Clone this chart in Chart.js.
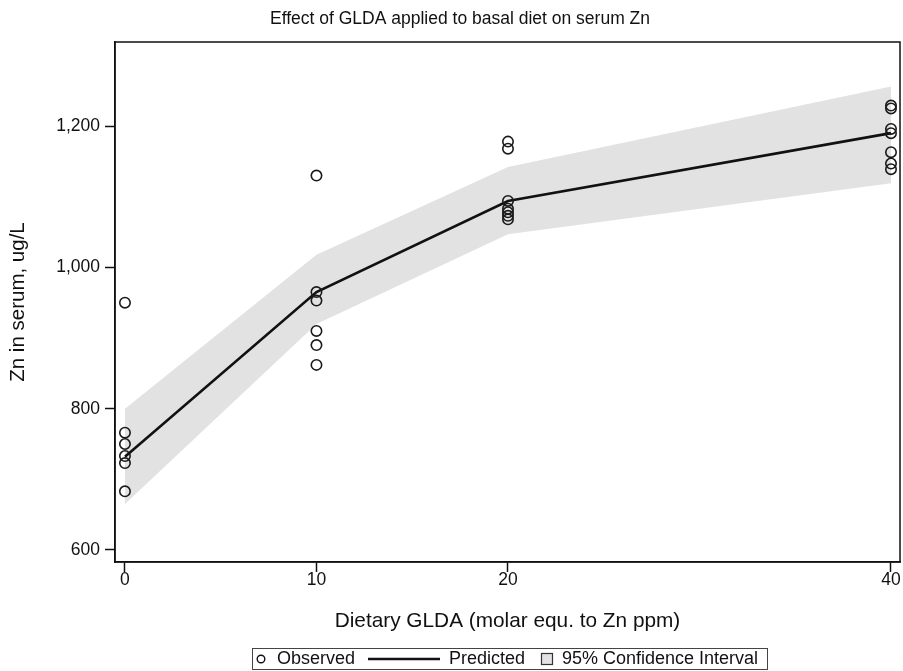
<!DOCTYPE html>
<html>
<head>
<meta charset="utf-8">
<script src="https://cdn.jsdelivr.net/npm/chart.js@4.4.1/dist/chart.umd.min.js"></script>
<style>
  html, body { margin: 0; padding: 0; background: #fff; }
  #wrap { width: 903px; height: 671px; }
</style>
</head>
<body>
<div id="wrap"><canvas id="chart"></canvas></div>
<script>
// dose levels (molar equ. to Zn ppm)
const doses = [0, 10, 20, 40];
// observed serum Zn, one array per dose group
const obsAt0 = [950, 766, 750, 733, 723, 683];
const obsAt10 = [1130, 965, 953, 910, 890, 862];
const obsAt20 = [1178, 1168, 1094, 1083, 1078, 1073, 1068];
const obsAt40 = [1229, 1225, 1196, 1190, 1163, 1147, 1139];
// fitted values and 95% CI
const predicted = [732, 965, 1094, 1190];
const ciLower = [665, 920, 1047, 1119];
const ciUpper = [800, 1018, 1142, 1256];
// axis ticks
const xTicks = [0, 10, 20, 40];
const yTicks = [600, 800, 1000, 1200];

const FONT = '"Liberation Sans", Arial, Helvetica, sans-serif';
const BAND = '#e2e2e2';

function toPoints(xs, ys) {
    return xs.map((x, i) => ({x: x, y: ys[i]}));
}

let observed = [];
[obsAt0, obsAt10, obsAt20, obsAt40].forEach((group, g) => {
    group.forEach((v) => observed.push({x: doses[g], y: v}));
});

// frame, title and the boxed legend underneath
const decor = {
    id: 'decor',
    afterDraw(chart) {
        const ctx = chart.ctx;
        const a = chart.chartArea;
        ctx.save();
        ctx.strokeStyle = '#111';
        ctx.lineWidth = 1.5;
        ctx.strokeRect(a.left, a.top, a.right - a.left, a.bottom - a.top);

        ctx.fillStyle = '#111';
        ctx.font = '17.5px ' + FONT;
        ctx.textBaseline = 'middle';
        ctx.textAlign = 'center';
        ctx.fillText('Effect of GLDA applied to basal diet on serum Zn', 460, 19);

        // legend
        ctx.font = '18px ' + FONT;
        ctx.textAlign = 'left';
        ctx.lineWidth = 1;
        ctx.strokeStyle = '#444';
        ctx.strokeRect(252.5, 648.5, 515, 21);
        const ly = 659;
        ctx.strokeStyle = '#111';
        ctx.lineWidth = 1.4;
        ctx.beginPath();
        ctx.arc(261, ly, 3.8, 0, Math.PI * 2);
        ctx.stroke();
        ctx.fillText('Observed', 277, ly);
        ctx.lineWidth = 2.5;
        ctx.beginPath();
        ctx.moveTo(368, ly);
        ctx.lineTo(440, ly);
        ctx.stroke();
        ctx.fillText('Predicted', 449, ly);
        ctx.fillStyle = BAND;
        ctx.fillRect(541, 653, 11, 11);
        ctx.lineWidth = 1.2;
        ctx.strokeStyle = '#333';
        ctx.strokeRect(541.5, 653.5, 11, 11);
        ctx.fillStyle = '#111';
        ctx.fillText('95% Confidence Interval', 562, ly);
        ctx.restore();
    }
};

new Chart(document.getElementById('chart'), {
    type: 'scatter',
    data: {
        datasets: [
            {
                label: 'Observed',
                data: observed,
                pointStyle: 'circle',
                pointRadius: 5.2,
                pointBorderWidth: 1.6,
                borderColor: '#1a1a1a',
                backgroundColor: 'rgba(0,0,0,0)',
                order: 1
            },
            {
                label: 'Predicted',
                data: toPoints(doses, predicted),
                showLine: true,
                borderColor: '#111',
                borderWidth: 2.6,
                pointRadius: 0,
                tension: 0,
                order: 2
            },
            {
                label: 'CI lower',
                data: toPoints(doses, ciLower),
                showLine: true,
                borderWidth: 0,
                borderColor: BAND,
                pointRadius: 0,
                fill: false,
                order: 3
            },
            {
                label: '95% Confidence Interval',
                data: toPoints(doses, ciUpper),
                showLine: true,
                borderWidth: 0,
                borderColor: BAND,
                backgroundColor: BAND,
                pointRadius: 0,
                fill: '-1',
                order: 4
            }
        ]
    },
    options: {
        responsive: true,
        maintainAspectRatio: false,
        animation: false,
        layout: { autoPadding: false, padding: { top: 42, right: 3, bottom: 29, left: 0 } },
        plugins: {
            legend: { display: false },
            tooltip: { enabled: false },
            title: { display: false }
        },
        scales: {
            x: {
                type: 'linear',
                min: -0.52,
                max: 40.47,
                afterBuildTicks: (scale) => { scale.ticks = xTicks.map(v => ({value: v})); },
                afterFit: (scale) => { scale.height = 80; },
                grid: { drawOnChartArea: false, tickLength: 10, tickColor: '#111', tickWidth: 1.5 },
                border: { color: '#111', width: 1.5 },
                ticks: { color: '#111', font: { family: FONT, size: 17.5 }, padding: -2, maxRotation: 0 },
                title: {
                    display: true,
                    text: 'Dietary GLDA (molar equ. to Zn ppm)',
                    color: '#111',
                    font: { family: FONT, size: 20.8 },
                    padding: { top: 0, bottom: 8.5 }
                }
            },
            y: {
                min: 583,
                max: 1319,
                afterBuildTicks: (scale) => { scale.ticks = yTicks.map(v => ({value: v})); },
                afterFit: (scale) => { scale.width = 115; },
                grid: { drawOnChartArea: false, tickLength: 10, tickColor: '#111', tickWidth: 1.5 },
                border: { color: '#111', width: 1.5 },
                ticks: {
                    color: '#111',
                    font: { family: FONT, size: 17.5 },
                    padding: 5,
                    callback: (v) => v.toLocaleString('en-US')
                },
                title: {
                    display: true,
                    text: 'Zn in serum, ug/L',
                    color: '#111',
                    font: { family: FONT, size: 20.5 },
                    padding: { top: 6, bottom: 0 }
                }
            }
        }
    },
    plugins: [decor]
});
</script>
</body>
</html>
